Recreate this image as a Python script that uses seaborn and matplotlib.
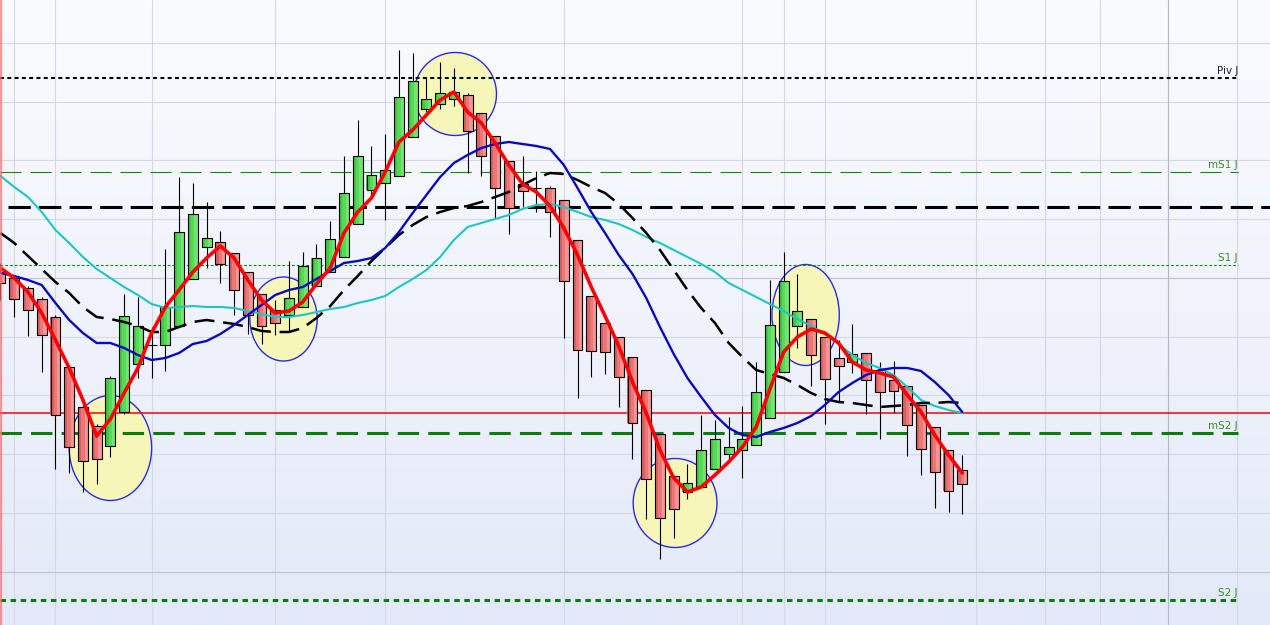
import numpy as np
import pandas as pd
import matplotlib
matplotlib.use("Agg")
import matplotlib.pyplot as plt
from matplotlib.patches import Ellipse
from matplotlib.colors import LinearSegmentedColormap
import seaborn as sns

# daily candles (price in chart units)
opens = [353, 347, 337, 326, 308, 258, 218, 199, 179, 213, 261, 280, 280, 299, 346, 378,
         383, 372, 353, 331, 315, 310, 318, 339, 353, 368, 401, 435, 442, 449, 488, 516,
         521, 526, 530, 512, 489, 464, 441, 437, 437, 425, 385, 329, 302, 288, 268, 235,
         191, 149, 133, 138, 156, 171, 175, 180, 207, 253, 299, 306, 288, 267, 263, 272,
         255, 245, 239, 220, 198, 175, 155]
highs = [362, 350, 339, 328, 310, 260, 220, 201, 249, 331, 328, 298, 376, 448, 442, 423,
         394, 372, 353, 331, 325, 364, 373, 381, 404, 469, 505, 479, 491, 575, 572, 548,
         563, 557, 532, 512, 489, 464, 469, 454, 439, 425, 385, 329, 302, 288, 268, 235,
         191, 149, 161, 210, 205, 208, 219, 263, 345, 373, 351, 306, 288, 285, 301, 272,
         263, 264, 239, 220, 198, 175, 170]
lows = [325, 308, 289, 253, 156, 152, 133, 141, 168, 211, 247, 247, 254, 299, 346, 357,
        342, 310, 291, 281, 290, 293, 318, 339, 353, 368, 401, 428, 405, 449, 488, 513,
        516, 519, 452, 449, 406, 391, 418, 413, 388, 287, 227, 248, 251, 218, 166, 106,
        66, 87, 126, 138, 156, 165, 147, 180, 207, 253, 277, 239, 201, 223, 252, 211,
        186, 212, 169, 150, 117, 113, 111]
closes = [342, 326, 315, 290, 210, 178, 164, 166, 247, 309, 299, 280, 318, 393, 411, 387,
          361, 335, 310, 299, 302, 327, 359, 367, 386, 432, 469, 450, 455, 528, 544, 526,
          532, 533, 494, 469, 437, 417, 434, 437, 413, 344, 275, 274, 273, 248, 202, 146,
          107, 116, 142, 175, 186, 178, 186, 233, 300, 344, 314, 270, 246, 259, 271, 245,
          233, 234, 200, 176, 153, 134, 141]

# moving averages
ma_red = [357, 347, 333, 312, 285, 257, 225, 189, 206, 232, 257, 292, 318, 335, 353, 367,
          379, 367, 345, 325, 312, 314, 323, 341, 357, 392, 413, 427, 453, 483, 495, 510,
          525, 533, 513, 502, 482, 460, 441, 433, 419, 397, 370, 338, 309, 279, 243, 212,
          175, 147, 133, 138, 150, 163, 178, 198, 236, 273, 288, 296, 292, 282, 263, 255,
          252, 248, 230, 213, 190, 170, 152]
ma_blue = [352, 349, 345, 340, 322, 305, 292, 282, 282, 277, 270, 265, 267, 272, 281, 284,
           291, 300, 310, 320, 330, 335, 338, 346, 354, 362, 364, 367, 377, 393, 412, 430,
           448, 462, 470, 477, 481, 483, 481, 479, 476, 460, 437, 413, 392, 370, 351, 327,
           298, 271, 247, 228, 210, 197, 190, 188, 193, 197, 202, 209, 220, 233, 242, 250,
           255, 257, 257, 254, 243, 230, 213]
ma_cyan = [449, 438, 428, 413, 395, 382, 368, 356, 347, 338, 330, 321, 317, 318, 319, 318,
           318, 317, 314, 311, 308, 308, 310, 313, 316, 318, 322, 325, 329, 338, 346, 355,
           368, 385, 398, 402, 406, 410, 416, 420, 421, 418, 413, 408, 405, 401, 395, 388,
           382, 375, 368, 361, 353, 342, 335, 328, 321, 314, 306, 299, 291, 281, 270, 262,
           257, 250, 238, 225, 219, 215, 212]
ma_black = [392, 382, 369, 356, 343, 332, 318, 308, 306, 303, 299, 293, 293, 298, 303, 305,
            303, 301, 298, 294, 293, 293, 297, 307, 319, 335, 349, 364, 377, 390, 400, 408,
            413, 417, 419, 423, 428, 433, 440, 447, 452, 451, 445, 438, 432, 421, 407, 392,
            375, 355, 335, 317, 302, 282, 268, 255, 251, 247, 240, 232, 226, 223, 222, 220,
            218, 219, 220, 222, 222, 223, 222]

level_names = ["Piv J", "mS1 J", "S1 J", "mS2 J", "S2 J"]
level_values = [547, 453, 360, 192, 25]
pivot_value = 418
red_value = 212

# highlighted zones: candle index, price, width (candles), height (price)
zones = [(8.0, 177, 6.0, 105), (20.6, 306, 4.9, 84), (33.1, 531, 6.0, 83),
         (49.1, 122, 6.1, 89), (58.6, 310, 4.9, 101)]

day_breaks = [1, 4, 11, 20, 28, 41, 54, 57, 60, 71, 76, 80, 85, 90]
price_grid = [53, 112, 171, 230, 288, 347, 406, 465, 523, 582]

sns.set_style("white")

fig = plt.figure(figsize=(12.7, 6.25), dpi=100)
ax = fig.add_axes([0, 0, 1, 1])
x0, x1 = -0.036, 92.4
y0, y1 = 0, 625

# background gradient
bg = LinearSegmentedColormap.from_list("bg", ["#e3e9f8", "#f0f3fc", "#fafbfe"])
ax.imshow(np.linspace(0, 1, 256).reshape(-1, 1), cmap=bg, origin="lower",
          extent=[x0, x1, y0, y1], aspect="auto", zorder=0)

ax.set_xticks(day_breaks)
ax.set_yticks(price_grid)
ax.set_axisbelow(True)
ax.grid(True, color="#d4d8e4", lw=0.8)
ax.axvline(85, color="#b4b8c8", lw=0.8, zorder=0.6)
for p in (347, 53):
    ax.axhline(p, color="#c0c4d2", lw=0.8, zorder=0.6)

# zones
for cx, cy, w, h in zones:
    ax.add_patch(Ellipse((cx, cy), w, h, facecolor="#f6f6b8", edgecolor="#2a2ae6",
                         lw=1.0, zorder=2))

# levels
xe = 90.07
lvl_style = {
    "Piv J": dict(color="black", lw=1.5, ls=(0, (1.9, 1.6))),
    "mS1 J": dict(color="#118a11", lw=0.8, ls=(0, (19, 8))),
    "S1 J": dict(color="#118a11", lw=0.8, ls=(0, (2.5, 1.8))),
    "mS2 J": dict(color="#0a7d0a", lw=2.2, ls=(0, (7, 3))),
    "S2 J": dict(color="#0a7d0a", lw=2.2, ls=(0, (1.8, 1.5))),
}
for name, val in zip(level_names, level_values):
    ax.plot([x0, xe], [val, val], zorder=2.5, **lvl_style[name])
    ax.text(xe, val + 2, name, ha="right", va="bottom", fontsize=7.5,
            color="#1c1c3c" if name == "Piv J" else "#3c8a2c", zorder=6)
ax.plot([0.55, x1], [pivot_value, pivot_value], color="black", lw=2.2,
        ls=(0, (7.3, 2.7)), zorder=2.5)
ax.plot([x0, x1], [red_value, red_value], color="#ff0000", lw=1.1, zorder=2.5)

# candles
df = pd.DataFrame({"open": opens, "high": highs, "low": lows, "close": closes})
df["i"] = np.arange(len(df))
up = (df["close"] >= df["open"]).to_numpy()
lo = df[["open", "close"]].min(axis=1)
hgt = (df["close"] - df["open"]).abs()
ax.vlines(df["i"], df["low"], df["high"], color="black", lw=0.8, zorder=3)
# shaded bodies: darker left, lighter right
shades_up = ["#42c642", "#58d858", "#72e472"]
shades_dn = ["#dc6060", "#ea7878", "#f49494"]
bw = 0.72
for k in range(3):
    off = -bw / 2 + bw / 3 * (k + 0.5)
    ax.bar(df["i"] + off, hgt, bottom=lo, width=bw / 3 + 0.01,
           color=np.where(up, shades_up[k], shades_dn[k]), linewidth=0, zorder=3.1)
ax.bar(df["i"], hgt, bottom=lo, width=bw, facecolor="none", edgecolor="black",
       linewidth=0.8, zorder=3.2)

# moving averages
idx = np.arange(len(ma_red))
sns.lineplot(x=idx, y=ma_cyan, ax=ax, color="#1cc6c6", lw=1.5, zorder=4)
sns.lineplot(x=idx, y=ma_black, ax=ax, color="black", lw=1.8, linestyle=(0, (8, 3.5)), zorder=4.1)
sns.lineplot(x=idx, y=ma_blue, ax=ax, color="#0a0ac0", lw=1.7, zorder=4.2)
sns.lineplot(x=idx, y=ma_red, ax=ax, color="#ff0000", lw=2.6, zorder=4.3)

ax.axvline(0.02, color="#ff6a6a", alpha=0.7, lw=1.6, zorder=5)

ax.set_xlim(x0, x1)
ax.set_ylim(y0, y1)
ax.set_xlabel("")
ax.set_ylabel("")
ax.tick_params(length=0, labelbottom=False, labelleft=False)
for s in ax.spines.values():
    s.set_visible(False)

fig.savefig("out.png", dpi=100)
